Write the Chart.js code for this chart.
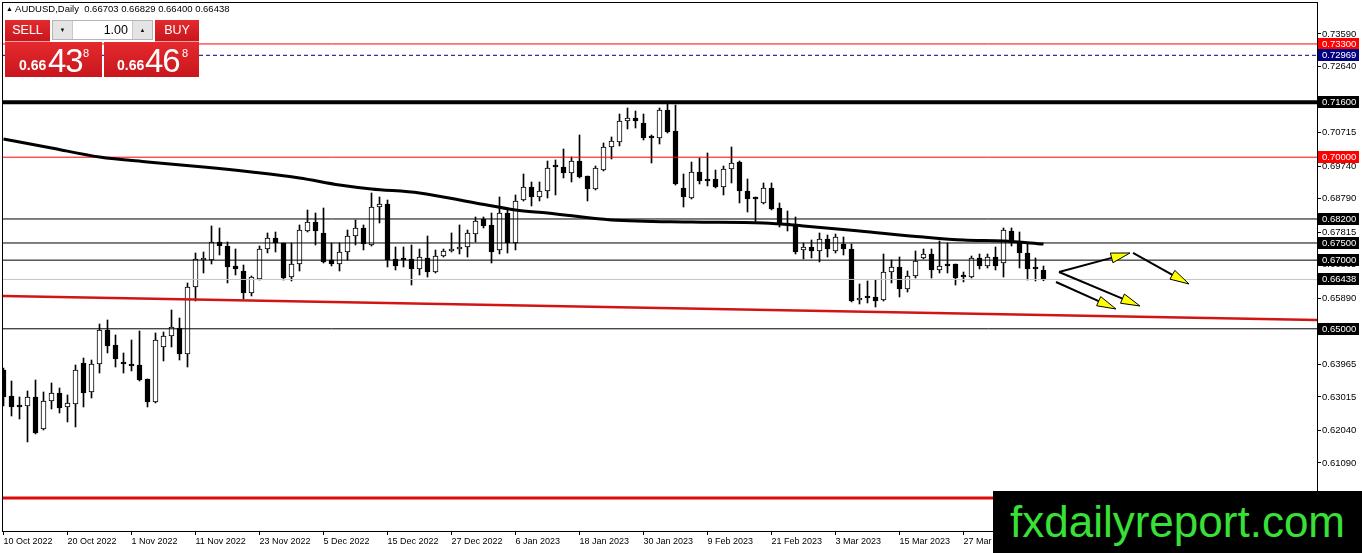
<!DOCTYPE html>
<html>
<head>
<meta charset="utf-8">
<script src="https://cdn.jsdelivr.net/npm/chart.js@4.4.0/dist/chart.umd.min.js"></script>
<style>
  html, body { margin: 0; padding: 0; background: #fff; }
  #wrap { position: relative; width: 1362px; height: 553px; overflow: hidden; font-family: "Liberation Sans", Arial, sans-serif; }
  #chart { position: absolute; left: 0; top: 0; }
  .abs { position: absolute; white-space: nowrap; }
  #hdr { left: 6px; top: 3px; font-size: 9.5px; line-height: 11px; color: #000; }
  #hdr .tri { font-size: 7px; vertical-align: 1px; }
  .red { position: absolute; background: linear-gradient(#e42a2e, #c8161c); color: #fff; }
  .btn { top: 20px; height: 21px; line-height: 21px; text-align: center; font-size: 12.5px; border-bottom: 1px solid #f0a5a5; }
  #sellBtn { left: 5px; width: 45px; }
  #buyBtn { left: 155px; width: 44px; }
  #lots { left: 52px; top: 20px; width: 101px; height: 20px; background: #fff; border: 1px solid #b5b5b5; box-sizing: border-box; }
  #lots .arr { position: absolute; top: 0; width: 19px; height: 18px; background: #e4e4e4; font-size: 6px; line-height: 18px; text-align: center; color: #111; }
  #lots .l { left: 0; border-right: 1px solid #c8c8c8; }
  #lots .r { right: 0; border-left: 1px solid #c8c8c8; }
  #lots .v { position: absolute; right: 24px; top: 0; font-size: 12.5px; line-height: 18px; color: #000; }
  .price { top: 42px; height: 35px; }
  #sellPx { left: 5px; width: 97px; }
  #buyPx { left: 104px; width: 95px; }
  .sm { font-size: 14px; font-weight: bold; line-height: 14px; color: #fff; }
  .big { font-size: 33px; line-height: 33px; color: #fff; letter-spacing: -1px; }
  .sup { font-size: 11px; line-height: 11px; color: #fff; }
  #wm { left: 993px; top: 491px; width: 369px; height: 62px; background: #000; }
  #wmText { left: 1010px; top: 500px; font-size: 44px; line-height: 44px; color: #38e038; }
</style>
</head>
<body>
<div id="wrap">
  <canvas id="chart" width="1362" height="553"></canvas>
  <div id="hdr" class="abs"><span class="tri">▲</span> AUDUSD,Daily&nbsp; 0.66703 0.66829 0.66400 0.66438</div>
  <div id="sellBtn" class="red btn">SELL</div>
  <div id="lots" class="abs"><span class="arr l">▼</span><span class="v">1.00</span><span class="arr r">▲</span></div>
  <div id="buyBtn" class="red btn">BUY</div>
  <div id="sellPx" class="red price"></div>
  <div id="buyPx" class="red price"></div>
  <span class="abs sm" style="left:19px;top:58px;">0.66</span>
  <span class="abs big" style="left:48px;top:44px;">43</span>
  <span class="abs sup" style="left:83px;top:48px;">8</span>
  <span class="abs sm" style="left:117px;top:58px;">0.66</span>
  <span class="abs big" style="left:145px;top:44px;">46</span>
  <span class="abs sup" style="left:182px;top:48px;">8</span>
  <div id="wm" class="abs"></div>
  <div id="wmText" class="abs">fxdailyreport.com</div>
</div>
<script>
// AUDUSD daily candles, 10 Oct 2022 .. 10 Apr 2023
const opens = [
  0.63800,0.63042,0.62780,0.62751,0.63013,0.62081,0.62896,0.63130,0.62722,0.62809,
  0.64004,0.63159,0.63974,0.64965,0.64528,0.64033,0.63974,0.63945,0.63538,0.62867,
  0.64470,0.64790,0.65024,0.64266,0.66218,0.67005,0.67005,0.67529,0.67413,0.66830,
  0.66684,0.66043,0.66451,0.67325,0.67646,0.67500,0.66509,0.66888,0.67850,0.68112,
  0.67792,0.67005,0.66888,0.67238,0.67704,0.67937,0.67442,0.68549,0.68637,0.67034,
  0.67034,0.67034,0.66743,0.67063,0.66655,0.67121,0.67267,0.67325,0.67384,0.67762,
  0.68199,0.68025,0.67296,0.68374,0.67500,0.68753,0.69132,0.68841,0.69015,0.69744,
  0.69715,0.69540,0.69889,0.69452,0.69074,0.69627,0.70297,0.70443,0.71055,0.71142,
  0.70997,0.70618,0.70560,0.71376,0.70764,0.69103,0.68811,0.69569,0.69365,0.69365,
  0.69132,0.69656,0.69860,0.69015,0.68811,0.68666,0.69103,0.68520,0.68083,0.68054,
  0.67296,0.67384,0.67267,0.67617,0.67267,0.67471,0.67325,0.65839,0.65927,0.65927,
  0.65839,0.66655,0.66801,0.66160,0.66539,0.67063,0.67180,0.66713,0.66888,0.66888,
  0.66539,0.66509,0.67063,0.66830,0.67092,0.66917,0.67850,0.67500,0.67209,0.66772,
  0.66703];
const highs = [
  0.63858,0.63479,0.63013,0.63188,0.63508,0.63159,0.63421,0.63275,0.63071,0.63945,
  0.64149,0.64091,0.65140,0.65257,0.64820,0.64295,0.64674,0.64936,0.63538,0.64878,
  0.64907,0.65548,0.65315,0.66335,0.67209,0.67238,0.67996,0.67937,0.67529,0.67325,
  0.66859,0.66539,0.67413,0.67792,0.67821,0.67500,0.67500,0.68025,0.68462,0.68374,
  0.68520,0.67500,0.67500,0.67879,0.68170,0.68025,0.68957,0.68841,0.68753,0.67384,
  0.67384,0.67442,0.67325,0.67704,0.67296,0.67325,0.67792,0.68025,0.67879,0.68258,
  0.68258,0.68374,0.68841,0.68520,0.68899,0.69511,0.69278,0.69278,0.69889,0.69919,
  0.70239,0.70006,0.70647,0.69452,0.69744,0.70414,0.70589,0.71259,0.71434,0.71346,
  0.71259,0.70647,0.71434,0.71550,0.71521,0.69511,0.69860,0.69977,0.70123,0.69627,
  0.69744,0.70297,0.69889,0.69365,0.68841,0.69249,0.69249,0.68666,0.68433,0.68258,
  0.67500,0.67588,0.67792,0.67733,0.67762,0.67675,0.67471,0.66306,0.66393,0.66422,
  0.67180,0.67005,0.67092,0.66684,0.67267,0.67325,0.67325,0.67558,0.67500,0.66888,
  0.66655,0.67121,0.67180,0.67180,0.67384,0.67937,0.67937,0.67821,0.67500,0.67063,
  0.66829];
const lows = [
  0.62751,0.62459,0.62372,0.61702,0.61935,0.62051,0.62663,0.62547,0.62285,0.62139,
  0.62722,0.62984,0.63712,0.64295,0.63887,0.63712,0.63771,0.63479,0.62722,0.62838,
  0.64062,0.64470,0.64091,0.63887,0.65810,0.66626,0.66888,0.67151,0.66335,0.66568,
  0.65868,0.65956,0.66422,0.67209,0.67238,0.66422,0.66393,0.66684,0.67821,0.67442,
  0.66917,0.66830,0.66684,0.67005,0.67442,0.67296,0.67413,0.68083,0.66801,0.66713,
  0.66801,0.66276,0.66568,0.66509,0.66626,0.67092,0.67238,0.67180,0.67092,0.67529,
  0.67937,0.66917,0.67180,0.67209,0.67296,0.68724,0.68578,0.68724,0.68811,0.68899,
  0.69394,0.69278,0.69394,0.68724,0.69045,0.69598,0.69948,0.70327,0.70822,0.70851,
  0.70501,0.69831,0.70385,0.70705,0.69190,0.68549,0.68782,0.69219,0.69161,0.69103,
  0.68899,0.69249,0.68666,0.68403,0.68112,0.68637,0.68462,0.67966,0.67850,0.67180,
  0.67034,0.67063,0.66947,0.67092,0.67209,0.67151,0.65781,0.65723,0.65752,0.65635,
  0.65810,0.66335,0.65927,0.66072,0.66480,0.67034,0.66480,0.66626,0.66626,0.66276,
  0.66364,0.66480,0.66743,0.66772,0.66713,0.66509,0.67413,0.66772,0.66422,0.66393,
  0.66400];
const closes = [
  0.63013,0.62722,0.62722,0.63013,0.61964,0.62896,0.63130,0.62692,0.62838,0.63800,
  0.63130,0.63974,0.64965,0.64499,0.64120,0.63974,0.63916,0.63508,0.62867,0.64674,
  0.64790,0.65053,0.64266,0.66218,0.67034,0.67034,0.67529,0.67413,0.66801,0.66743,
  0.66043,0.66509,0.67325,0.67646,0.67500,0.66480,0.66888,0.67879,0.68112,0.67850,
  0.66947,0.66888,0.67238,0.67704,0.67937,0.67471,0.68549,0.68637,0.67005,0.66830,
  0.67005,0.66743,0.67092,0.66655,0.67121,0.67267,0.67325,0.67384,0.67792,0.68141,
  0.67996,0.67238,0.68374,0.67500,0.68724,0.69132,0.68841,0.69015,0.69686,0.69715,
  0.69540,0.69889,0.69423,0.69074,0.69686,0.70297,0.70472,0.71055,0.71142,0.71055,
  0.70560,0.70560,0.71376,0.70734,0.69219,0.68841,0.69569,0.69307,0.69307,0.69132,
  0.69656,0.69831,0.69015,0.68782,0.68782,0.69103,0.68491,0.68054,0.68025,0.67238,
  0.67384,0.67267,0.67617,0.67325,0.67675,0.67325,0.65810,0.65898,0.65898,0.65810,
  0.66655,0.66801,0.66160,0.66539,0.66976,0.67180,0.66713,0.66830,0.66830,0.66480,
  0.66509,0.67063,0.66830,0.67092,0.66830,0.67879,0.67500,0.67209,0.66743,0.66743,
  0.66438];

// moving average, read at some bars
const maIdx = [0, 6, 12, 18, 25, 31, 37, 42, 46, 52, 59, 64, 68, 76, 86, 95, 100, 107, 115, 120, 125, 130];
const maVals = [0.70531, 0.70268, 0.70006, 0.69860, 0.69715, 0.69569, 0.69394, 0.69190, 0.69074, 0.68957, 0.68666,
  0.68462, 0.68374, 0.68170, 0.68112, 0.68083, 0.67996, 0.67850, 0.67675, 0.67588, 0.67558, 0.67471];

// red support trend line
const trendIdx = [-0.0625, 164.1875];
const trendVals = [0.65956, 0.65257];

// horizontal levels
const levelPrices = [0.73300, 0.72969, 0.71600, 0.70000, 0.68200, 0.67500, 0.67000, 0.66438, 0.65000, 0.60070];
const levelColors = ['#ff0000', '#000080', '#000000', '#ff0000', '#000000', '#000000', '#000000', '#c4c4c4', '#000000', '#dd0a0a'];
const levelWidths = [1, 1, 4, 1, 1, 1, 1, 1, 1, 3];
const levelDashes = [[], [4, 3], [], [], [], [], [], [], [], []];

// price boxes on the axis
const boxLevels = [0.73300, 0.72969, 0.71600, 0.70000, 0.68200, 0.67500, 0.67000, 0.66438, 0.65000];
const boxColors = ['#ff0000', '#000080', '#000', '#ff0000', '#000', '#000', '#000', '#000', '#000'];

// projection arrows (bar index, price)
const arrowFromIdx = [131.94, 141.19, 131.94, 131.56];
const arrowFromPx = [0.66655, 0.67209, 0.66655, 0.66364];
const arrowToIdx = [140.81, 148.19, 142.06, 139.06];
const arrowToPx = [0.67209, 0.66306, 0.65665, 0.65577];

const yTicks = [0.73590, 0.72640, 0.71665, 0.70715, 0.69740, 0.68790, 0.67815, 0.66865, 0.65890, 0.64940, 0.63965, 0.63015, 0.62040, 0.61090];
const xTickIdx = [0, 8, 16, 24, 32, 40, 48, 56, 64, 72, 80, 88, 96, 104, 112, 120];
const dateLabels = ['10 Oct 2022', '20 Oct 2022', '1 Nov 2022', '11 Nov 2022', '23 Nov 2022', '5 Dec 2022', '15 Dec 2022',
  '27 Dec 2022', '6 Jan 2023', '18 Jan 2023', '30 Jan 2023', '9 Feb 2023', '21 Feb 2023', '3 Mar 2023', '15 Mar 2023', '27 Mar 2023'];

const FONT = '"Liberation Sans", Arial, sans-serif';
Chart.defaults.font.family = FONT;

const idx = opens.map((_, i) => i);
const wickData = idx.map(i => ({ x: i, y: [lows[i], highs[i]] }));
const bodyData = idx.map(i => ({ x: i, y: [opens[i], closes[i]] }));
const bodyFill = idx.map(i => closes[i] >= opens[i] ? '#ffffff' : '#000000');

const levelSets = levelPrices.map((v, i) => ({
  type: 'line',
  data: [{ x: trendIdx[0], y: v }, { x: trendIdx[1], y: v }],
  borderColor: levelColors[i],
  borderWidth: levelWidths[i],
  borderDash: levelDashes[i],
  pointRadius: 0,
  order: 3
}));

const mtOverlay = {
  id: 'mtOverlay',
  afterDraw(chart) {
    const { ctx, chartArea: a, scales: { x, y } } = chart;
    ctx.save();
    ctx.strokeStyle = '#000';
    ctx.lineWidth = 1;
    ctx.strokeRect(Math.round(a.left) - 0.5, Math.round(a.top) - 0.5,
      Math.round(a.right - a.left) + 1, Math.round(a.bottom - a.top) + 1);

    // arrows
    ctx.beginPath();
    ctx.rect(a.left, a.top, a.right - a.left, a.bottom - a.top);
    ctx.clip();
    for (let i = 0; i < arrowFromIdx.length; i++) {
      const x1 = x.getPixelForValue(arrowFromIdx[i]), y1 = y.getPixelForValue(arrowFromPx[i]);
      const x2 = x.getPixelForValue(arrowToIdx[i]), y2 = y.getPixelForValue(arrowToPx[i]);
      const ang = Math.atan2(y2 - y1, x2 - x1);
      const hl = 19, hw = 5;
      const bx = x2 - hl * Math.cos(ang), by = y2 - hl * Math.sin(ang);
      ctx.strokeStyle = '#000';
      ctx.lineWidth = 2;
      ctx.beginPath();
      ctx.moveTo(x1, y1);
      ctx.lineTo(bx, by);
      ctx.stroke();
      ctx.beginPath();
      ctx.moveTo(x2, y2);
      ctx.lineTo(bx + hw * Math.sin(ang), by - hw * Math.cos(ang));
      ctx.lineTo(bx - hw * Math.sin(ang), by + hw * Math.cos(ang));
      ctx.closePath();
      ctx.fillStyle = '#ffff00';
      ctx.fill();
      ctx.lineWidth = 1;
      ctx.stroke();
    }
    ctx.restore();

    // price boxes on the right axis
    ctx.save();
    ctx.font = '9.5px ' + FONT;
    ctx.textBaseline = 'middle';
    boxLevels.forEach((v, i) => {
      const py = Math.round(y.getPixelForValue(v));
      ctx.fillStyle = boxColors[i];
      ctx.fillRect(a.right + 1, py - 6, 41, 12);
      ctx.fillStyle = '#fff';
      ctx.fillText(v.toFixed(5), a.right + 5, py + 0.5);
    });
    ctx.restore();
  }
};

new Chart(document.getElementById('chart'), {
  type: 'bar',
  data: {
    datasets: [
      {
        type: 'line', data: maIdx.map((v, i) => ({ x: v, y: maVals[i] })),
        borderColor: '#000', borderWidth: 3, pointRadius: 0, cubicInterpolationMode: 'monotone', order: 1
      },
      {
        type: 'line', data: trendIdx.map((v, i) => ({ x: v, y: trendVals[i] })),
        borderColor: '#d21414', borderWidth: 2.5, pointRadius: 0, order: 2
      },
      ...levelSets,
      {
        data: bodyData, backgroundColor: bodyFill, borderColor: '#000', borderWidth: 1,
        borderSkipped: false, barThickness: 5, minBarLength: 2, grouped: false, order: 10
      },
      {
        data: wickData, backgroundColor: '#000', borderWidth: 0,
        barThickness: 1, grouped: false, order: 11
      }
    ]
  },
  options: {
    responsive: false,
    animation: false,
    devicePixelRatio: 1,
    layout: { padding: { left: 3, top: 3, right: 0, bottom: 0 } },
    plugins: { legend: { display: false }, tooltip: { enabled: false } },
    scales: {
      x: {
        type: 'linear', position: 'bottom', min: -0.0625, max: 164.1875, offset: false,
        grid: { drawOnChartArea: false, drawTicks: true, tickLength: 4, color: '#000', offset: false },
        border: { display: true, color: '#000' },
        ticks: {
          autoSkip: false, maxRotation: 0, minRotation: 0, align: 'start', padding: 1,
          color: '#000', font: { size: 9 },
          callback: v => dateLabels[xTickIdx.indexOf(v)]
        },
        afterBuildTicks: s => { s.ticks = xTickIdx.map(v => ({ value: v })); },
        afterFit: s => { s.height = 22; }
      },
      y: {
        type: 'linear', position: 'right', min: 0.59108, max: 0.74493, beginAtZero: false,
        grid: { drawOnChartArea: false, drawTicks: true, tickLength: 4, color: '#000' },
        border: { display: true, color: '#000' },
        ticks: {
          padding: 1, color: '#000', font: { size: 9.5, lineHeight: 0.2 },
          callback: v => v.toFixed(5)
        },
        afterBuildTicks: s => { s.ticks = yTicks.map(v => ({ value: v })); },
        afterFit: s => { s.width = 45; }
      }
    }
  },
  plugins: [mtOverlay]
});
</script>
</body>
</html>
